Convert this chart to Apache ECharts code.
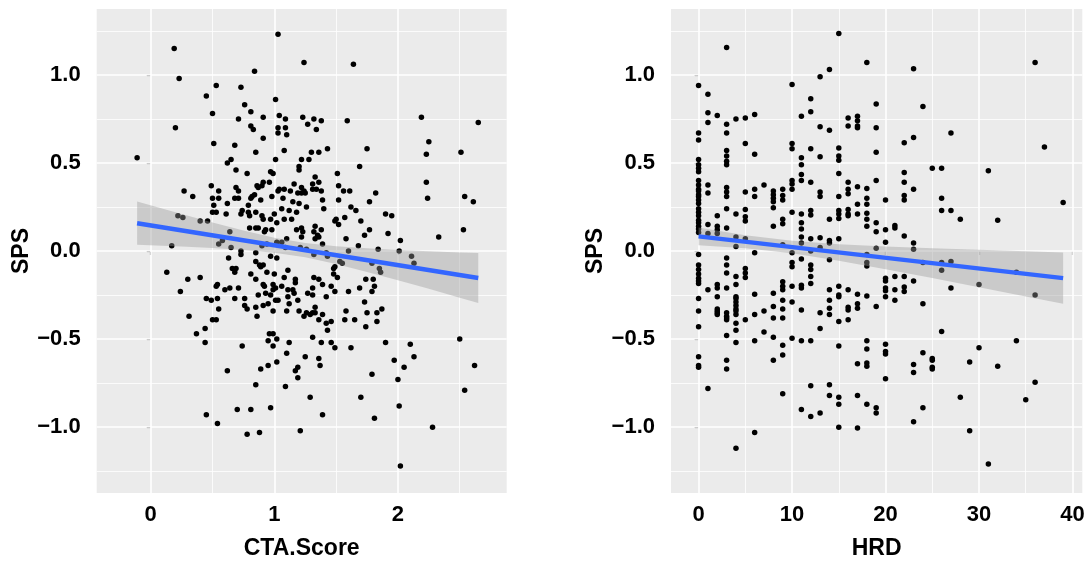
<!DOCTYPE html>
<html>
<head>
<meta charset="utf-8">
<script src="https://cdn.jsdelivr.net/npm/echarts@6/dist/echarts.min.js"></script>
<style>
html,body{margin:0;padding:0;background:#fff;}
#chart{width:1091px;height:565px;}
</style>
</head>
<body>
<div id="chart"></div>
<script>
// ---- data: CTA.Score vs SPS (left panel) ----
const ctaPoints = [
[-0.11,0.53],[0.19,1.15],[0.23,0.98],[0.20,0.70],[1.03,1.23],[1.24,1.07],[1.64,1.06],[0.84,1.02],[0.45,0.88],[0.53,0.94],[0.73,0.93],[1.01,0.86],[0.50,0.78],[0.76,0.83],[0.81,0.79],[0.91,0.76],[1.04,0.77],[1.09,0.75],[1.23,0.76],[1.32,0.75],[1.38,0.74],[1.27,0.72],[1.34,0.69],[1.59,0.74],[0.81,0.71],[0.83,0.69],[1.03,0.70],[1.09,0.70],[1.03,0.67],[1.10,0.66],[0.71,0.75],[0.51,0.61],[0.68,0.60],[0.91,0.64],[0.85,0.56],[1.08,0.57],[1.43,0.58],[1.75,0.58],[2.19,0.76],[2.25,0.62],[2.23,0.55],[2.65,0.73],[2.51,0.56],[2.23,0.39],[2.24,0.30],[2.54,0.31],[2.61,0.28],[2.53,0.12],[2.33,0.08],[0.62,0.50],[0.65,0.52],[0.69,0.46],[1.01,0.52],[1.20,0.48],[1.22,0.52],[1.28,0.52],[1.30,0.56],[1.36,0.56],[1.20,0.46],[1.69,0.48],[0.78,0.44],[0.97,0.45],[0.99,0.44],[1.51,0.44],[1.33,0.42],[0.49,0.37],[0.55,0.34],[0.27,0.34],[0.34,0.31],[0.50,0.30],[0.55,0.30],[0.51,0.26],[0.53,0.22],[0.50,0.22],[0.62,0.27],[0.61,0.21],[0.68,0.30],[0.71,0.30],[0.71,0.34],[0.69,0.36],[0.84,0.32],[0.86,0.37],[0.87,0.36],[0.91,0.39],[0.90,0.37],[0.81,0.30],[0.82,0.31],[0.89,0.29],[0.98,0.31],[0.96,0.39],[1.07,0.30],[1.04,0.35],[1.03,0.34],[1.08,0.35],[1.13,0.34],[1.16,0.38],[1.19,0.33],[1.22,0.33],[1.25,0.33],[1.22,0.36],[1.24,0.34],[1.31,0.35],[1.34,0.35],[1.36,0.39],[1.38,0.34],[1.39,0.29],[1.31,0.38],[1.40,0.24],[1.26,0.25],[1.15,0.28],[1.20,0.27],[1.12,0.23],[1.18,0.22],[1.06,0.24],[1.00,0.21],[0.79,0.26],[0.74,0.23],[0.73,0.21],[0.79,0.22],[0.85,0.22],[0.80,0.20],[0.90,0.20],[0.91,0.18],[0.97,0.18],[0.85,0.13],[0.80,0.13],[0.87,0.13],[0.93,0.12],[0.92,0.11],[0.98,0.12],[1.02,0.16],[1.08,0.18],[1.14,0.18],[1.18,0.12],[1.23,0.11],[1.35,0.09],[1.38,0.12],[1.33,0.14],[1.32,0.11],[1.36,0.08],[1.33,0.07],[1.39,0.04],[1.52,0.29],[1.62,0.25],[1.66,0.23],[1.82,0.33],[1.77,0.28],[1.50,0.18],[1.57,0.19],[1.52,0.15],[1.49,0.17],[1.52,0.37],[1.56,0.34],[1.61,0.34],[1.70,0.17],[1.77,0.12],[1.73,0.09],[1.58,0.07],[1.68,0.03],[1.90,0.21],[1.95,0.20],[1.92,0.10],[2.02,0.06],[2.01,0.00],[1.84,0.01],[2.11,-0.03],[2.13,-0.07],[1.79,-0.07],[1.85,-0.10],[1.86,-0.12],[1.53,-0.06],[1.49,-0.09],[1.48,-0.13],[1.51,-0.15],[1.74,-0.16],[1.80,-0.16],[0.22,0.20],[0.26,0.19],[0.40,0.17],[0.46,0.17],[0.17,0.03],[0.55,0.04],[0.58,0.06],[0.64,0.11],[0.65,0.02],[0.73,0.00],[0.73,-0.02],[0.63,-0.04],[0.66,-0.10],[0.69,-0.10],[0.68,-0.12],[0.81,-0.13],[0.85,-0.16],[0.85,-0.06],[0.88,-0.08],[0.89,-0.09],[0.91,-0.08],[0.94,-0.12],[0.97,-0.03],[1.02,-0.04],[1.00,-0.13],[1.08,-0.15],[1.11,-0.11],[1.17,-0.16],[1.22,0.08],[1.22,0.13],[1.21,0.02],[1.26,0.01],[1.32,-0.02],[1.43,-0.03],[1.42,-0.01],[1.48,-0.10],[1.55,-0.07],[1.60,0.00],[1.10,0.07],[1.09,0.02],[1.02,0.05],[1.06,0.05],[0.90,0.03],[0.94,0.04],[0.85,-0.01],[0.13,-0.12],[0.30,-0.16],[0.40,-0.15],[1.32,-0.15],[1.36,-0.16],
[0.24,-0.23],[0.31,-0.37],[0.37,-0.47],[0.44,-0.52],[0.44,-0.44],[0.45,-0.27],[0.49,-0.28],[0.50,-0.39],[0.53,-0.39],[0.54,-0.27],[0.55,-0.33],[0.53,-0.20],[0.54,-0.19],[0.60,-0.22],[0.64,-0.21],[0.71,-0.21],[0.68,-0.27],[0.76,-0.27],[0.76,-0.31],[0.78,-0.33],[0.85,-0.32],[0.86,-0.37],[0.87,-0.25],[0.91,-0.19],[0.92,-0.20],[0.93,-0.24],[0.91,-0.31],[0.95,-0.30],[0.97,-0.25],[0.99,-0.19],[0.99,-0.22],[1.01,-0.21],[0.99,-0.34],[1.01,-0.28],[1.03,-0.28],[1.06,-0.20],[1.11,-0.22],[1.11,-0.26],[1.12,-0.30],[1.10,-0.34],[1.15,-0.22],[1.16,-0.24],[1.17,-0.18],[1.19,-0.28],[1.20,-0.34],[1.24,-0.37],[1.27,-0.24],[1.26,-0.35],[1.29,-0.36],[1.31,-0.21],[1.31,-0.25],[1.33,-0.32],[1.33,-0.35],[1.36,-0.39],[1.31,-0.35],[1.39,-0.19],[1.42,-0.26],[1.39,-0.36],[1.42,-0.41],[1.46,-0.40],[1.43,-0.45],[1.46,-0.20],[1.49,-0.23],[1.57,-0.39],[1.58,-0.34],[1.60,-0.23],[1.65,-0.39],[1.69,-0.21],[1.73,-0.29],[1.74,-0.43],[1.75,-0.35],[1.79,-0.23],[1.81,-0.20],[1.83,-0.35],[1.83,-0.40],[1.87,-0.33],[1.90,-0.52],[2.10,-0.53],[2.13,-0.60],[1.97,-0.62],[2.05,-0.66],[2.00,-0.73],[1.79,-0.70],[1.70,-0.83],[1.81,-0.95],[2.01,-0.88],[2.02,-1.22],[2.28,-1.00],[2.50,-0.50],[2.62,-0.65],[2.54,-0.79],[1.62,-0.55],[1.49,-0.55],[1.46,-0.52],[1.38,-0.52],[1.31,-0.49],[1.36,-0.61],[1.37,-0.65],[1.25,-0.60],[1.12,-0.52],[1.02,-0.50],[0.99,-0.54],[0.95,-0.51],[0.96,-0.47],[0.99,-0.47],[1.02,-0.63],[0.95,-0.65],[0.89,-0.67],[1.10,-0.58],[1.19,-0.66],[1.19,-0.72],[1.17,-0.68],[0.85,-0.76],[0.74,-0.54],[0.62,-0.68],[1.29,-0.83],[1.39,-0.93],[1.09,-0.77],[0.97,-0.89],[0.81,-0.90],[0.70,-0.90],[0.45,-0.93],[0.54,-0.98],[0.78,-1.04],[0.88,-1.03],[1.21,-1.02]
];

// ---- data: HRD vs SPS (right panel), grouped by HRD value ----
const hrdGroups = [
[0,[0.94,0.67,0.63,0.52,0.49,0.47,0.45,0.40,0.375,0.35,0.34,0.32,0.31,0.29,0.27,0.24,0.22,0.20,0.175,0.16,0.14,0.125,0.105,-0.02,-0.08,-0.105,-0.13,-0.155,-0.17,-0.185,-0.27,-0.34,-0.43,-0.60,-0.65,-0.66]],
[1,[0.89,0.785,0.73,0.375,0.33,0.15,0.10,-0.22,-0.78]],
[2,[0.77,0.20,0.14,0.12,0.10,-0.19,-0.21,-0.26,-0.33,-0.34,-0.35,-0.36]],
[3,[1.155,0.72,0.67,0.57,0.54,0.51,0.49,0.36,0.335,0.31,0.24,0.13,-0.04,-0.08,-0.125,-0.21,-0.35,-0.37,-0.38,-0.39,-0.48,-0.62,-0.67]],
[4,[0.75,0.21,0.08,0.025,-0.145,-0.19,-0.26,-0.27,-0.29,-0.31,-0.33,-0.34,-0.36,-0.41,-0.45,-0.52,-1.12]],
[5,[0.755,0.61,0.335,0.235,0.195,0.17,0.07,-0.10,-0.125,-0.15,-0.39]],
[6,[0.775,0.55,0.35,0.31,-0.01,-0.245,-0.36,-0.51,-1.03]],
[7,[0.375,-0.34,-0.46]],
[8,[0.34,0.32,0.30,0.28,0.245,0.14,-0.24,-0.315,-0.38,-0.49,-0.62]],
[9,[0.35,0.315,0.29,0.18,0.155,0.035,-0.175,-0.20,-0.22,-0.28,-0.33,-0.38,-0.535,-0.59,-0.81]],
[10,[0.945,0.61,0.58,0.40,0.38,0.35,0.22,-0.01,-0.065,-0.09,-0.20,-0.29,-0.495]],
[11,[0.765,0.53,0.49,0.435,0.40,0.21,0.16,0.125,0.08,0.045,-0.045,-0.195,-0.21,-0.335,-0.51,-0.90]],
[12,[0.865,0.79,0.58,0.39,0.23,0.205,0.07,0,-0.08,-0.105,-0.145,-0.185,-0.51,-0.765,-0.94]],
[13,[0.99,0.705,0.535,0.335,0.31,0.075,0.02,-0.35,-0.44,-0.92]],
[14,[1.03,0.685,0.18,0.06,0.045,-0.05,-0.22,-0.28,-0.325,-0.36,-0.76,-0.82]],
[15,[1.235,0.585,0.54,0.515,0.44,0.31,0.23,0.21,0.185,0.07,-0.20,-0.25,-0.26,-0.40,-0.54,-0.83,-0.87,-1.00]],
[16,[0.755,0.71,0.39,0.35,0.325,0.235,0.21,0.20,-0.22,-0.32,-0.335,-0.39]],
[17,[0.765,0.74,0.71,0.70,0.365,0.265,0.21,-0.245,-0.30,-0.325,-0.64,-0.82,-1.005]],
[18,[1.07,0.355,0.30,0.265,0.215,0.18,0.14,-0.02,-0.065,-0.085,-0.255,-0.51,-0.556,-0.636,-0.655,-0.87]],
[19,[0.835,0.70,0.56,0.40,0.16,0.11,0.015,-0.315,-0.89,-0.92]],
[20,[0.29,0.12,0.05,-0.155,-0.17,-0.21,-0.225,-0.26,-0.53,-0.57,-0.585,-0.725]],
[21,[0.145,0.13,-0.145,-0.22,-0.28]],
[22,[0.615,0.445,0.39,0.315,0.29,0.085,-0.145,-0.205,-0.23]],
[23,[1.035,0.645,0.35,0.045,0.01,-0.17,-0.645,-0.69,-0.97]],
[24,[0.82,-0.065,-0.30,-0.578,-0.89]],
[25,[0.47,-0.61,-0.62,-0.66,-0.67]],
[26,[0.47,0.30,0.23,-0.065,-0.11,-0.457]],
[27,[0.67,0.23,-0.06,-0.21]],
[28,[0.18,-0.83]],
[29,[-0.63,-1.02]],
[30,[-0.19,-0.55]],
[31,[0.455,-1.21]],
[32,[0.175,-0.655]],
[34,[-0.12,-0.51]],
[35,[-0.845]],
[36,[1.07,-0.25,-0.745]],
[37,[0.59]],
[39,[0.275]]
];

// ---- fitted lines and confidence bands ----
const leftFit = [[-0.11,0.158],[2.65,-0.153]];
const leftBandX  = [-0.11,0.25,0.5,0.75,1.0,1.25,1.5,1.75,2.0,2.25,2.5,2.65];
const leftBandLo = [0.036,0.026,0.017,0.006,-0.010,-0.036,-0.074,-0.119,-0.166,-0.215,-0.265,-0.295];
const leftBandHi = [0.281,0.210,0.162,0.116,0.075,0.046,0.027,0.015,0.006,-0.001,-0.008,-0.012];

const rightFit = [[0,0.083],[39,-0.154]];
const rightBandX  = [0,5,10,15,20,25,30,35,39];
const rightBandLo = [0.033,0.016,-0.013,-0.055,-0.103,-0.154,-0.206,-0.258,-0.300];
const rightBandHi = [0.133,0.089,0.058,0.039,0.026,0.016,0.007,-0.002,-0.008];

// ---- ticks ----
const yTicks = [-1.0,-0.5,0.0,0.5,1.0];
const yMinor = [-1.25,-0.75,-0.25,0.25,0.75,1.25];
const leftXTicks = [0,1,2];
const leftXMinor = [0.5,1.5,2.5];
const rightXTicks = [0,10,20,30,40];
const rightXMinor = [5,15,25,35];

// ---- build ----
const hrdPoints = [];
hrdGroups.forEach(([h, vals]) => vals.forEach(v => hrdPoints.push([h, v])));

const FONT = "'Liberation Sans', Arial, Helvetica, sans-serif";
const labelStyle = {fontFamily: FONT, fontWeight: 'bold', fontSize: 22, color: '#000'};
const nameStyle = {fontFamily: FONT, fontWeight: 'bold', fontSize: 23, color: '#000'};
const yFmt = v => (v < 0 ? '\u2212' : '') + Math.abs(v).toFixed(1);

function xAxisDef(gridIndex, min, max, ticks, name) {
  return {
    type: 'value', gridIndex, min, max,
    axisLine: {show: false},
    splitLine: {show: false},
    axisTick: {show: true, length: 4, lineStyle: {color: '#333', width: 1.1}, customValues: ticks},
    axisLabel: Object.assign({customValues: ticks, margin: 11, formatter: v => String(v)}, labelStyle),
    name, nameLocation: 'middle', nameGap: 44, nameTextStyle: nameStyle
  };
}
function yAxisDef(gridIndex) {
  return {
    type: 'value', gridIndex, min: -1.374, max: 1.374,
    axisLine: {show: false},
    splitLine: {show: false},
    axisTick: {show: true, length: 4, lineStyle: {color: '#333', width: 1.1}, customValues: yTicks},
    axisLabel: Object.assign({customValues: yTicks, margin: 16, formatter: yFmt}, labelStyle),
    name: 'SPS', nameLocation: 'middle', nameGap: 64, nameTextStyle: nameStyle
  };
}
function gridLines(idx, xMajor, xMinor) {
  const d = [];
  xMinor.forEach(v => d.push({xAxis: v, lineStyle: {width: 0.8}}));
  yMinor.forEach(v => d.push({yAxis: v, lineStyle: {width: 0.8}}));
  xMajor.forEach(v => d.push({xAxis: v, lineStyle: {width: 1.6}}));
  yTicks.forEach(v => d.push({yAxis: v, lineStyle: {width: 1.6}}));
  return {
    type: 'scatter', xAxisIndex: idx, yAxisIndex: idx, data: [], z: 1, silent: true,
    markLine: {silent: true, z: 1, symbol: ['none','none'], label: {show: false}, animation: false,
      lineStyle: {color: '#ffffff', type: 'solid'}, data: d}
  };
}
function bandSeries(idx, xs, lo, hi) {
  return {
    type: 'custom', xAxisIndex: idx, yAxisIndex: idx, z: 4, silent: true,
    data: [[xs[0], lo[0]]],
    renderItem: function (params, api) {
      const pts = [];
      for (let i = 0; i < xs.length; i++) pts.push(api.coord([xs[i], hi[i]]));
      for (let i = xs.length - 1; i >= 0; i--) pts.push(api.coord([xs[i], lo[i]]));
      return {type: 'polygon', shape: {points: pts}, style: {fill: 'rgba(153,153,153,0.4)'}};
    }
  };
}
function pointSeries(idx, pts) {
  return {type: 'scatter', xAxisIndex: idx, yAxisIndex: idx, data: pts, z: 3,
    symbolSize: 5.5, itemStyle: {color: '#000', opacity: 1}, silent: true};
}
function fitSeries(idx, pts) {
  return {type: 'line', xAxisIndex: idx, yAxisIndex: idx, data: pts, z: 5, symbol: 'none',
    lineStyle: {color: '#3366FF', width: 4.5}, silent: true};
}

const chart = echarts.init(document.getElementById('chart'), null, {renderer: 'canvas'});
chart.setOption({
  animation: false,
  backgroundColor: '#ffffff',
  grid: [
    {left: 96.7, top: 9, width: 410, height: 485, show: true, backgroundColor: '#EBEBEB', borderWidth: 0},
    {left: 671, top: 9, width: 411.3, height: 485, show: true, backgroundColor: '#EBEBEB', borderWidth: 0}
  ],
  xAxis: [
    xAxisDef(0, -0.437, 2.88, leftXTicks, 'CTA.Score'),
    xAxisDef(1, -2.95, 41.05, rightXTicks, 'HRD')
  ],
  yAxis: [yAxisDef(0), yAxisDef(1)],
  series: [
    gridLines(0, leftXTicks, leftXMinor),
    gridLines(1, rightXTicks, rightXMinor),
    pointSeries(0, ctaPoints),
    pointSeries(1, hrdPoints),
    bandSeries(0, leftBandX, leftBandLo, leftBandHi),
    bandSeries(1, rightBandX, rightBandLo, rightBandHi),
    fitSeries(0, leftFit),
    fitSeries(1, rightFit)
  ]
});
</script>
</body>
</html>
